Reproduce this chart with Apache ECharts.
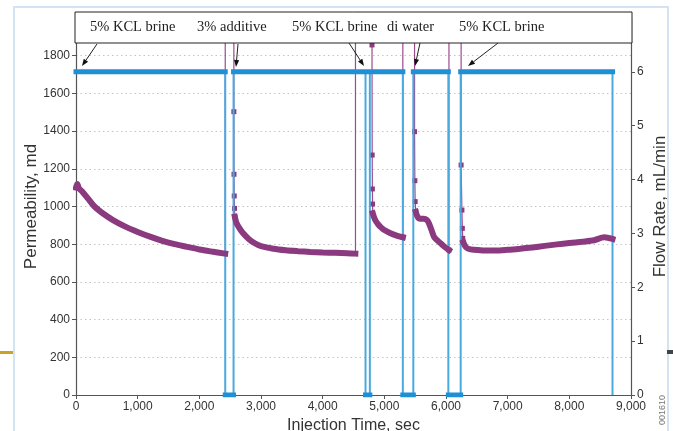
<!DOCTYPE html>
<html><head><meta charset="utf-8">
<script src="https://cdn.jsdelivr.net/npm/echarts@6/dist/echarts.min.js"></script>
<style>html,body{margin:0;padding:0;background:#fff;overflow:hidden}#c{width:673px;height:431px}</style>
</head><body><div id="c"></div>
<script>
// ---- Flow rate (mL/min), step changes ----
const flowTime = [0, 2420, 2420, 2555, 2555, 4695, 4695, 4765, 4765, 5300, 5300, 5470, 5470, 6038, 6038, 6238, 6238, 8700, 8700];
const flowRate = [6, 6, 0, 0, 6, 6, 0, 0, 6, 6, 0, 0, 6, 6, 0, 0, 6, 6, 0];

// ---- Permeability (md), decay segments ----
const permTime1 = [0, 20, 50, 100, 200, 300, 450, 600, 800, 1000, 1200, 1400, 1600, 1800, 2000, 2200, 2420];
const permVal1  = [1100, 1120, 1095, 1080, 1040, 1000, 960, 928, 893, 865, 840, 818, 800, 786, 772, 761, 750];
const permTime2 = [2575, 2600, 2650, 2700, 2800, 2900, 3000, 3200, 3400, 3600, 3800, 4000, 4200, 4400, 4530];
const permVal2  = [946, 915, 885, 862, 828, 805, 790, 776, 768, 763, 759, 756, 754, 752, 750];
const permTime3 = [4812, 4850, 4900, 4950, 5000, 5100, 5200, 5300];
const permVal3  = [964, 930, 905, 888, 875, 858, 846, 837];
const permTime4 = [5510, 5540, 5580, 5640, 5690, 5725, 5765, 5805, 5860, 5913, 5970, 6048];
const permVal4  = [972, 945, 935, 935, 928, 910, 875, 840, 820, 805, 788, 769];
const permTime5 = [6280, 6320, 6360, 6450, 6600, 6800, 7000, 7200, 7400, 7600, 7800, 8000, 8200, 8400, 8566, 8700];
const permVal5  = [810, 785, 776, 770, 767, 766, 770, 776, 783, 791, 799, 806, 813, 821, 837, 828];

// ---- Permeability transients (spikes off scale + isolated readings) ----
const spikeTime = [2420, 2420, 2560, 2560, 2562, 2566, 2570, 2575, null,
                   4532, 4532, 4800, 4800, 4803, 4806, 4809, 4812, null,
                   5300, 5300, 5490, 5490, 5495, 5500, 5510, null,
                   6048, 6048, 6245, 6245, 6258, 6265, 6272, 6280];
const spikeVal  = [750, 2600, 2600, 1503, 1171, 1056, 990, 946, null,
                   750, 2600, 2600, 1857, 1273, 1093, 1013, 964, null,
                   837, 2600, 2600, 1397, 1137, 1026, 972, null,
                   769, 2600, 2600, 1220, 981, 884, 831, 810];

// ---- Axis ticks & annotations ----
const xTicks = [0, 1000, 2000, 3000, 4000, 5000, 6000, 7000, 8000, 9000];
const permTicks = [0, 200, 400, 600, 800, 1000, 1200, 1400, 1600, 1800];
const flowTicks = [0, 1, 2, 3, 4, 5, 6];
const stageLabels = ['5% KCL brine', '3% additive', '5% KCL brine', 'di water', '5% KCL brine'];

const PURPLE = '#8b3a7f';
const BLUE = '#1f8fd6';
const BLUE_THIN = '#4aa9de';

function zip(t, v) { return t.map((x, i) => (x === null ? [null, null] : [x, v[i]])); }

const permSegs = [[permTime1, permVal1], [permTime2, permVal2], [permTime3, permVal3], [permTime4, permVal4], [permTime5, permVal5]];
const permData = [];
permSegs.forEach((s, k) => { if (k) permData.push([null, null]); permData.push(...zip(s[0], s[1])); });

const flowFlat = [];
for (let i = 0; i < flowTime.length - 1; i++) {
  if (flowRate[i] === flowRate[i + 1] && flowTime[i] !== flowTime[i + 1]) {
    flowFlat.push([flowTime[i], flowRate[i]], [flowTime[i + 1], flowRate[i + 1]], [null, null]);
  }
}
const spikeData = spikeTime.map((t, i) => {
  if (t === null) return [null, null];
  const v = spikeVal[i];
  return v > 2000 ? { value: [t, v], symbol: 'none' } : { value: [t, v] };
});

function arrow(x1, y1, x2, y2) {
  const a = Math.atan2(y2 - y1, x2 - x1), L = 7, W = 2.6;
  const bx = x2 - L * Math.cos(a), by = y2 - L * Math.sin(a);
  const px = -Math.sin(a) * W, py = Math.cos(a) * W;
  return [
    { type: 'line', z: 101, shape: { x1, y1, x2: bx, y2: by }, style: { stroke: '#222', lineWidth: 1 } },
    { type: 'polygon', z: 101, shape: { points: [[x2, y2], [bx + px, by + py], [bx - px, by - py]] }, style: { fill: '#111' } }
  ];
}
const labelX = [90, 197, 292, 387, 459];
const arrows = [[97, 44, 82, 66], [238, 44, 236, 67], [349, 43, 364, 66], [420, 43, 415, 66], [498, 43, 468, 66]];

const graphics = [
  { type: 'rect', z: -10, shape: { x: 14, y: 7, width: 654, height: 440 }, style: { fill: 'none', stroke: '#d3e3f4', lineWidth: 2 } },
  { type: 'rect', z: 100, shape: { x: 0, y: 351, width: 13, height: 3 }, style: { fill: '#c9a227' } },
  { type: 'rect', z: 100, shape: { x: 667, y: 350, width: 6, height: 4 }, style: { fill: '#444' } },
  { type: 'rect', z: 100, shape: { x: 75, y: 12, width: 557, height: 31 }, style: { fill: '#fff', stroke: '#222', lineWidth: 1 } },
  { type: 'text', z: 102, x: 663, y: 410, rotation: Math.PI / 2,
    style: { text: '001610', fontSize: 9, fontFamily: 'Liberation Sans', fill: '#777', align: 'center', verticalAlign: 'middle' } }
];
stageLabels.forEach((t, i) => graphics.push({
  type: 'text', z: 102, x: labelX[i], y: 27,
  style: { text: t, fontSize: 14.5, fontFamily: 'Liberation Serif', fill: '#222', align: 'left', verticalAlign: 'middle' }
}));
arrows.forEach(a => graphics.push(...arrow(...a)));

const fmt = v => String(v).replace(/\B(?=(\d{3})+(?!\d))/g, ',');
const axisFont = { fontFamily: 'Liberation Sans', fontSize: 12, color: '#333' };

const chart = echarts.init(document.getElementById('c'), null, { renderer: 'canvas' });
chart.setOption({
  animation: false,
  backgroundColor: '#fff',
  grid: { left: 76, right: 42, top: 18, bottom: 36, containLabel: false, outerBoundsMode: 'none' },
  xAxis: {
    type: 'value', min: 0, max: 9000, interval: 1000,
    name: 'Injection Time, sec', nameLocation: 'middle', nameGap: 22,
    nameTextStyle: { fontFamily: 'Liberation Sans', fontSize: 16, color: '#333' },
    axisLine: { lineStyle: { color: '#555', width: 1.2 } },
    axisTick: { length: 4, lineStyle: { color: '#555' } },
    axisLabel: Object.assign({ margin: 6, formatter: fmt, customValues: xTicks }, axisFont),
    splitLine: { show: false }
  },
  yAxis: [{
    type: 'value', min: 0, max: 2000, interval: 200, position: 'left',
    name: 'Permeability, md', nameLocation: 'middle', nameGap: 36, nameRotate: 90, nameMoveOverlap: false,
    nameTextStyle: { fontFamily: 'Liberation Sans', fontSize: 17, color: '#333' },
    axisLine: { show: true, lineStyle: { color: '#555', width: 1.2 } },
    axisTick: { show: true, length: 4, customValues: permTicks, lineStyle: { color: '#555' } },
    axisLabel: Object.assign({ margin: 6, customValues: permTicks, formatter: v => (v === 2000 ? '' : String(v)) }, axisFont),
    splitLine: { show: true, lineStyle: { type: [1.5, 3], color: '#c4c4c4', width: 1 } }
  }, {
    type: 'value', min: 0, max: 7, interval: 1, position: 'right',
    name: 'Flow Rate, mL/min', nameLocation: 'middle', nameGap: 21, nameRotate: 90, nameMoveOverlap: false,
    nameTextStyle: { fontFamily: 'Liberation Sans', fontSize: 17, color: '#333' },
    axisLine: { show: true, lineStyle: { color: '#555', width: 1.2 } },
    axisTick: { show: true, length: 4, customValues: flowTicks, lineStyle: { color: '#555' } },
    axisLabel: Object.assign({ margin: 6, customValues: flowTicks, formatter: v => (v === 7 ? '' : String(v)) }, axisFont),
    splitLine: { show: false }
  }],
  series: [
    { name: 'perm spikes', type: 'line', yAxisIndex: 0, z: 1, data: spikeData, connectNulls: false,
      symbol: 'rect', symbolSize: 5, showSymbol: true, itemStyle: { color: PURPLE },
      lineStyle: { color: '#9c4a8e', width: 1.2 } },
    { name: 'flow steps', type: 'line', yAxisIndex: 1, z: 2, data: zip(flowTime, flowRate),
      showSymbol: false, lineStyle: { color: BLUE_THIN, width: 2 } },
    { name: 'Permeability', type: 'line', yAxisIndex: 0, z: 3, data: permData, connectNulls: false,
      smooth: 0.3, showSymbol: false, lineStyle: { color: PURPLE, width: 6, cap: 'square' } },
    { name: 'Flow rate', type: 'line', yAxisIndex: 1, z: 4, data: flowFlat, connectNulls: false,
      showSymbol: false, lineStyle: { color: BLUE, width: 5, cap: 'square' } }
  ],
  graphic: graphics
});
</script></body></html>
